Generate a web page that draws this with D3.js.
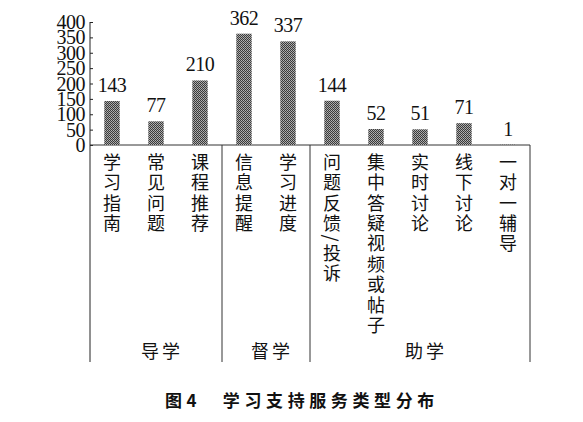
<!DOCTYPE html>
<html>
<head>
<meta charset="utf-8">
<script src="https://cdn.jsdelivr.net/npm/d3@7/dist/d3.min.js"></script>
<style>
  html, body { margin: 0; padding: 0; background: #fff; }
  svg { display: block; }
  .vlabel { writing-mode: vertical-rl; text-orientation: mixed; }
</style>
</head>
<body>
<svg id="chart" width="583" height="422"></svg>
<script>
// ---- data ----
const categories = ["学习指南", "常见问题", "课程推荐", "信息提醒", "学习进度",
                    "问题反馈/投诉", "集中答疑视频或帖子", "实时讨论", "线下讨论", "一对一辅导"];
const values = [143, 77, 210, 362, 337, 144, 52, 51, 71, 1];
const groupNames = ["导学", "督学", "助学"];
const groupOf = ["导学", "导学", "导学", "督学", "督学", "助学", "助学", "助学", "助学", "助学"];
const yTicks = [0, 50, 100, 150, 200, 250, 300, 350, 400];
const title = "图4\u3000学习支持服务类型分布";

// ---- layout ----
const svg = d3.select("#chart");
const left = 90, right = 530, baseY = 145, topY = 22, bottomY = 362;
const serif = "'Liberation Serif', 'DejaVu Serif', serif";
const cjk = "'Noto Sans CJK SC', sans-serif";

const x = d3.scaleBand().domain(categories).range([left, right]).padding(0);
const y = d3.scaleLinear().domain([0, 400]).range([baseY, topY]);

// stippled (fine checker) pattern for bars
const defs = svg.append("defs");
const pat = defs.append("pattern").attr("id", "stipple")
  .attr("width", 2).attr("height", 2).attr("patternUnits", "userSpaceOnUse");
pat.append("rect").attr("width", 2).attr("height", 2).attr("fill", "#3a3a3a");
pat.append("rect").attr("x", 1).attr("y", 0).attr("width", 1).attr("height", 1).attr("fill", "#b4b4b4");
pat.append("rect").attr("x", 0).attr("y", 1).attr("width", 1).attr("height", 1).attr("fill", "#a0a0a0");

// y axis
const yAxis = d3.axisRight(y).tickValues(yTicks).tickSize(3).tickFormat("");
const gy = svg.append("g").attr("transform", `translate(${left},0)`).call(yAxis);
gy.select(".domain").remove();
gy.selectAll(".tick line").attr("stroke", "#222");
svg.append("line").attr("x1", left).attr("x2", left).attr("y1", topY).attr("y2", bottomY)
  .attr("stroke", "#222").attr("stroke-width", 1);

// y tick labels
svg.append("g").selectAll("text").data(yTicks).join("text")
  .attr("x", left - 5).attr("y", d => y(d))
  .attr("text-anchor", "end").attr("dominant-baseline", "central")
  .attr("font-family", serif).attr("font-size", 20).attr("fill", "#111")
  .attr("letter-spacing", -0.5)
  .text(d => d);

// baseline and frame
svg.append("line").attr("x1", left).attr("x2", right).attr("y1", baseY).attr("y2", baseY)
  .attr("stroke", "#333").attr("stroke-width", 1);
svg.append("line").attr("x1", right).attr("x2", right).attr("y1", baseY).attr("y2", bottomY)
  .attr("stroke", "#333").attr("stroke-width", 1);

// group separators
const groupStarts = groupNames.map(g => categories[groupOf.indexOf(g)]);
svg.append("g").selectAll("line").data(groupStarts.slice(1)).join("line")
  .attr("x1", d => x(d)).attr("x2", d => x(d))
  .attr("y1", baseY).attr("y2", bottomY)
  .attr("stroke", "#333").attr("stroke-width", 1);

// bars
const barW = x.bandwidth() * 0.35;
svg.append("g").selectAll("rect").data(categories).join("rect")
  .attr("x", d => x(d) + x.bandwidth() / 2 - barW / 2)
  .attr("y", (d, i) => y(values[i]))
  .attr("width", barW)
  .attr("height", (d, i) => y(0) - y(values[i]))
  .attr("fill", "url(#stipple)");

// value labels
svg.append("g").selectAll("text").data(categories).join("text")
  .attr("x", d => x(d) + x.bandwidth() / 2)
  .attr("y", (d, i) => y(values[i]) - 9)
  .attr("text-anchor", "middle")
  .attr("font-family", serif).attr("font-size", 20).attr("fill", "#111")
  .attr("letter-spacing", -0.5)
  .text((d, i) => values[i]);

// vertical category labels
svg.append("g").selectAll("text").data(categories).join("text")
  .attr("class", "vlabel")
  .attr("x", d => x(d) + x.bandwidth() / 2)
  .attr("y", 153)
  .attr("text-anchor", "start")
  .attr("font-family", cjk).attr("font-size", 18).attr("fill", "#111")
  .attr("letter-spacing", 2.4)
  .text(d => d);

// group labels
groupNames.forEach(gname => {
  const members = categories.filter((c, i) => groupOf[i] === gname);
  const x0 = x(members[0]), x1 = x(members[members.length - 1]) + x.bandwidth();
  svg.append("text")
    .attr("x", (x0 + x1) / 2 + 6).attr("y", 350)
    .attr("text-anchor", "middle").attr("dominant-baseline", "central")
    .attr("font-family", cjk).attr("font-size", 18).attr("fill", "#111")
    .attr("letter-spacing", 3)
    .text(gname);
});

// title
svg.append("text")
  .attr("x", 165).attr("y", 399)
  .attr("dominant-baseline", "central")
  .attr("font-family", cjk).attr("font-size", 17).attr("font-weight", "bold").attr("fill", "#111")
  .attr("letter-spacing", 4.6)
  .text(title);
</script>
</body>
</html>
